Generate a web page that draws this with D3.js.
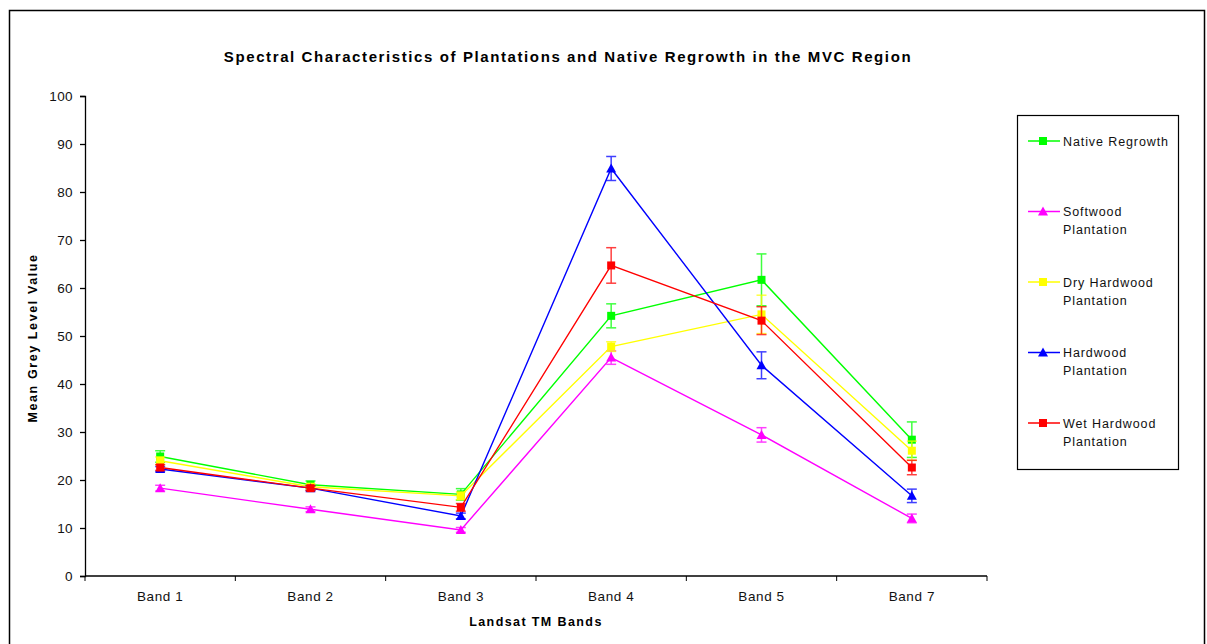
<!DOCTYPE html>
<html>
<head>
<meta charset="utf-8">
<script src="https://cdn.jsdelivr.net/npm/d3@7"></script>
<style>
  body { margin: 0; background: #fff; }
  svg { display: block; font-family: "Liberation Sans", Arial, sans-serif; }
</style>
</head>
<body>
<svg width="1207" height="644"></svg>
<script>
// band categories along x
const bands = ['Band 1', 'Band 2', 'Band 3', 'Band 4', 'Band 5', 'Band 7'];
const yTicks = [0, 10, 20, 30, 40, 50, 60, 70, 80, 90, 100];

// mean grey level per band, and the error bar half-widths
const nativeRegrowth = [24.9, 19.0, 17.0, 54.2, 61.7, 28.4];
const nativeErr = [1.2, 0.8, 1.2, 2.5, 5.4, 3.7];
const softwood = [18.3, 13.9, 9.6, 45.5, 29.4, 12.0];
const softwoodErr = [0.6, 0.5, 0.5, 1.4, 1.5, 0.9];
const dryHardwood = [24.0, 18.6, 16.7, 47.8, 54.5, 26.1];
const dryErr = [0.8, 0.6, 0.8, 1.0, 4.0, 2.0];
const hardwood = [22.3, 18.3, 12.5, 84.9, 43.9, 16.7];
const hardwoodErr = [0.5, 0.5, 0.6, 2.5, 2.8, 1.4];
const wetHardwood = [22.6, 18.3, 14.3, 64.7, 53.2, 22.6];
const wetErr = [0.6, 0.5, 0.8, 3.7, 2.9, 1.5];

const series = [
  { name: ['Native Regrowth'], values: nativeRegrowth, err: nativeErr, color: '#00ff00', shape: 'square' },
  { name: ['Softwood', 'Plantation'], values: softwood, err: softwoodErr, color: '#ff00ff', shape: 'triangle' },
  { name: ['Dry Hardwood', 'Plantation'], values: dryHardwood, err: dryErr, color: '#ffff00', shape: 'square' },
  { name: ['Hardwood', 'Plantation'], values: hardwood, err: hardwoodErr, color: '#0000ff', shape: 'triangle' },
  { name: ['Wet Hardwood', 'Plantation'], values: wetHardwood, err: wetErr, color: '#ff0000', shape: 'square' }
];

const svg = d3.select('svg');

// outer frame
svg.append('rect')
  .attr('x', 9.5).attr('y', 10.5)
  .attr('width', 1195).attr('height', 650)
  .attr('fill', 'none').attr('stroke', '#000').attr('stroke-width', 1.5);

const plotLeft = 85, plotRight = 987, plotTop = 96, plotBottom = 576;

const xScale = d3.scaleBand().domain(bands).range([plotLeft, plotRight]);
const yScale = d3.scaleLinear().domain([0, 100]).range([plotBottom, plotTop]);

// y axis
const leftAxis = d3.axisLeft(yScale).tickValues(yTicks).tickSize(5).tickPadding(7);
svg.append('g')
  .attr('transform', 'translate(' + plotLeft + ',0)')
  .call(leftAxis)
  .call(g => g.selectAll('text').style('font-size', '13.5px').style('letter-spacing', '0.4px').attr('fill', '#111'));

// x axis: ticks sit between categories
const bottomAxis = d3.axisBottom(xScale).tickSize(0).tickPadding(15);
const xg = svg.append('g')
  .attr('transform', 'translate(0,' + plotBottom + ')')
  .call(bottomAxis);
xg.selectAll('text').style('font-size', '13.5px').style('letter-spacing', '0.6px').attr('fill', '#111');
xg.select('.domain').attr('d', 'M' + plotLeft + ',0H' + plotRight);
xg.selectAll('.sep')
  .data(d3.range(bands.length + 1))
  .enter().append('line')
  .attr('class', 'sep')
  .attr('x1', i => plotLeft + i * xScale.step())
  .attr('x2', i => plotLeft + i * xScale.step())
  .attr('y1', 0).attr('y2', 5)
  .attr('stroke', '#000');
svg.selectAll('.domain, .tick line').attr('stroke', '#000').attr('stroke-width', 1.3);

// titles
svg.append('text')
  .attr('x', 568).attr('y', 62)
  .attr('text-anchor', 'middle')
  .style('font-size', '15px').style('font-weight', 'bold').style('letter-spacing', '1.6px')
  .text('Spectral Characteristics of Plantations and Native Regrowth in the MVC Region');

svg.append('text')
  .attr('x', 536).attr('y', 626)
  .attr('text-anchor', 'middle')
  .style('font-size', '12.5px').style('font-weight', 'bold').style('letter-spacing', '1.4px')
  .text('Landsat TM Bands');

svg.append('text')
  .attr('transform', 'translate(37,338) rotate(-90)')
  .attr('text-anchor', 'middle')
  .style('font-size', '12.5px').style('font-weight', 'bold').style('letter-spacing', '1.6px')
  .text('Mean Grey Level Value');

const cx = i => xScale(bands[i]) + xScale.bandwidth() / 2;

function marker(g, shape, color) {
  if (shape === 'square') {
    g.append('rect').attr('x', -4).attr('y', -4).attr('width', 8).attr('height', 8).attr('fill', color);
  } else {
    g.append('path').attr('d', 'M0,-5L5,4L-5,4Z').attr('fill', color);
  }
}

const line = d3.line()
  .x((d, i) => cx(i))
  .y(d => yScale(d));

series.forEach(function (s) {
  const g = svg.append('g');
  // error bars
  s.values.forEach(function (v, i) {
    const x = cx(i), y1 = yScale(v + s.err[i]), y2 = yScale(v - s.err[i]);
    const eb = g.append('g').attr('stroke', s.color).attr('stroke-width', 1.5).attr('opacity', 0.75);
    eb.append('line').attr('x1', x).attr('x2', x).attr('y1', y1).attr('y2', y2);
    eb.append('line').attr('x1', x - 5).attr('x2', x + 5).attr('y1', y1).attr('y2', y1);
    eb.append('line').attr('x1', x - 5).attr('x2', x + 5).attr('y1', y2).attr('y2', y2);
  });
  g.append('path')
    .datum(s.values)
    .attr('d', line)
    .attr('fill', 'none')
    .attr('stroke', s.color)
    .attr('stroke-width', 1.4);
  s.values.forEach(function (v, i) {
    const m = g.append('g').attr('transform', 'translate(' + cx(i) + ',' + yScale(v) + ')');
    marker(m, s.shape, s.color);
  });
});

// legend
const legend = svg.append('g');
legend.append('rect')
  .attr('x', 1017.5).attr('y', 115.5).attr('width', 161).attr('height', 354)
  .attr('fill', '#fff').attr('stroke', '#000').attr('stroke-width', 1.2);

series.forEach(function (s, k) {
  const y = 141 + k * 70.5;
  const item = legend.append('g');
  item.append('line')
    .attr('x1', 1028).attr('x2', 1060).attr('y1', y).attr('y2', y)
    .attr('stroke', s.color).attr('stroke-width', 1.5);
  const m = item.append('g').attr('transform', 'translate(1043,' + y + ')');
  marker(m, s.shape, s.color);
  s.name.forEach(function (t, j) {
    item.append('text')
      .attr('x', 1063).attr('y', y + 4.5 + j * 18)
      .style('font-size', '12.5px').style('letter-spacing', '0.9px').attr('fill', '#111')
      .text(t);
  });
});
</script>
</body>
</html>
